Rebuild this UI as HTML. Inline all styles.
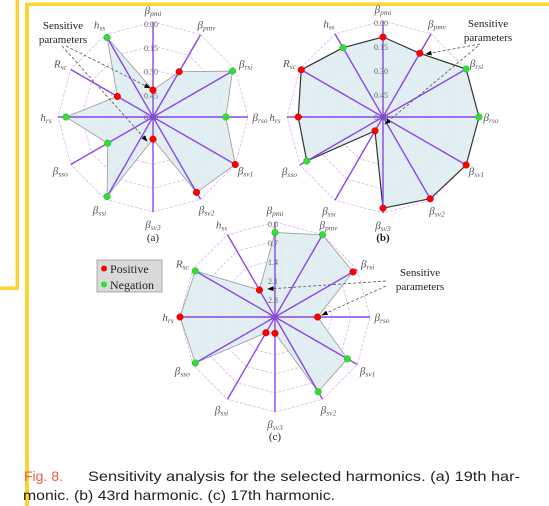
<!DOCTYPE html>
<html><head><meta charset="utf-8">
<style>
html,body{margin:0;padding:0;background:#fff;}
svg{display:block;}
.lbl{font-family:"Liberation Serif",serif;font-style:italic;fill:#555;}
</style></head>
<body>
<svg id="fig" width="549" height="506" viewBox="0 0 549 506" xmlns="http://www.w3.org/2000/svg">
  <rect x="0" y="0" width="549" height="506" fill="#fff"/>
  <g fill="#fcd535">
    <rect x="15.5" y="0" width="3.5" height="290"/>
    <rect x="0" y="286.5" width="19" height="3.5"/>
    <rect x="25" y="2.5" width="4" height="503.5"/>
    <rect x="25" y="2.5" width="524" height="3.5"/>
  </g>
  <g id="charts"></g>
  <g>
    <rect x="97" y="260" width="65" height="32" fill="#d9d9d9" stroke="#999" stroke-width="0.8"/>
    <circle cx="104" cy="268.5" r="3" fill="#f00"/>
    <text x="110" y="273" font-family="Liberation Serif,serif" font-size="12" fill="#222">Positive</text>
    <circle cx="104" cy="284.5" r="3" fill="#3d3"/>
    <text x="110" y="289" font-family="Liberation Serif,serif" font-size="12" fill="#222">Negation</text>
  </g>
  <g font-family="Liberation Sans,sans-serif" font-size="14">
    <text x="24" y="481" fill="#f05a3c">Fig. 8.</text>
    <text x="88" y="481" fill="#222" textLength="432" lengthAdjust="spacingAndGlyphs">Sensitivity analysis for the selected harmonics. (a) 19th har-</text>
    <text x="23" y="500" fill="#222" textLength="312" lengthAdjust="spacingAndGlyphs">monic. (b) 43rd harmonic. (c) 17th harmonic.</text>
  </g>
</svg>
<script>
// Axis categories (clockwise from top)
const categories = ["pmi","pmv","rsi","rso","sv1","sv2","sv3","ssi","sso","hrs","Rsc","hss"];
// Tick labels (outer -> centre)
const ticksA = ["0.00","0.15","0.30","0.45","0.60"];
const ticksB = ["0.00","0.15","0.30","0.45","0.60"];
const ticksC = ["0.0","0.7","1.4","2.1","2.8","3.5"];
// Values in axis units (outer = min tick, centre = max tick)
const valuesA = [0.43,0.27,0.02,0.14,0.00,0.05,0.46,0.02,0.27,0.05,0.34,0.02];
const valuesB = [0.10,0.14,0.00,0.00,0.00,0.01,0.03,0.50,0.05,0.07,0.01,0.10];
const valuesC = [0.39,0.00,0.18,1.93,0.42,0.32,2.90,2.83,0.11,0.00,0.11,2.35];
// Sign of each parameter: 1 positive (red), 0 negation (green)
const signA = [1,1,0,0,1,1,1,0,0,0,1,0];
const signB = [1,1,0,0,1,1,1,1,0,1,1,0];
const signC = [0,0,1,1,0,0,1,1,0,1,0,1];

const NS="http://www.w3.org/2000/svg";
const root=document.getElementById('charts');
function mk(tag,attrs,parent){const e=document.createElementNS(NS,tag);for(const k in attrs)e.setAttribute(k,attrs[k]);(parent||root).appendChild(e);return e;}
function ang(i){return (i*30-90)*Math.PI/180;}
function rScale(v,min,max,R){return R*(max-v)/(max-min);}
function pt(cx,cy,r,i){return [cx+r*Math.cos(ang(i)),cy+r*Math.sin(ang(i))];}

function drawRadar(id,cx,cy,R,ticks,values,signs,dark,caption,capY){
  const g=mk('g',{});
  
  
  const tmin=parseFloat(ticks[0]),tmax=parseFloat(ticks[ticks.length-1]);
  const n=ticks.length-1;
  for(let k=0;k<n;k++){
    const r=R*(n-k)/n;
    const pts=categories.map((c,i)=>pt(cx,cy,r,i).join(',')).join(' ');
    const ring=mk('polygon',{points:pts,fill:'none',stroke:'#dcb4f5','stroke-width':0.8,'stroke-dasharray':'3,1.5'},g);
    
    
  }
  const poly=values.map((v,i)=>pt(cx,cy,rScale(v,tmin,tmax,R),i).join(',')).join(' ');
  const shape=mk('polygon',{points:poly,fill:'#dcecf1','fill-opacity':0.85,stroke:dark?'#333':'#999','stroke-width':dark?1.2:0.8},g);
  
  
  categories.forEach((c,i)=>{
    const [x,y]=pt(cx,cy,R,i);
    const s=mk('line',{x1:cx,y1:cy,x2:x,y2:y,stroke:'#8a45f0','stroke-width':1.4},g);
    
    
  });
  mk('circle',{cx:cx,cy:cy,r:2.5,fill:'#8a45f0'},g);
  ticks.forEach((t,k)=>{
    const r=R*(n-k)/n;
    const tx=mk('text',{x:cx-2,y:cy-r+(k===n?3:5),'font-family':'Liberation Serif,serif','font-size':8,fill:'#666','text-anchor':'middle'},g);
    tx.textContent=t;
    
    
  });
  categories.forEach((c,i)=>{
    const [x,y]=pt(cx,cy,R+12,i);
    const t=mk('text',{x:x,y:y+4,'text-anchor':'middle','font-size':11,class:'lbl'},g);
    
    
    let main,sub;
    if(c==='hrs'){main='h';sub='rs';}else if(c==='hss'){main='h';sub='ss';}else if(c==='Rsc'){main='R';sub='sc';}else{main='β';sub=c;}
    const a=mk('tspan',{},t);a.textContent=main;
    const b=mk('tspan',{'font-size':7.5,dy:2},t);b.textContent=sub;
  });
  values.forEach((v,i)=>{
    const [x,y]=pt(cx,cy,rScale(v,tmin,tmax,R),i);
    const p=mk('circle',{cx:x,cy:y,r:3.3,fill:signs[i]?'#f00':'#3d3',stroke:signs[i]?'#c00':'#2b2','stroke-width':0.5},g);
    
    
  });
  const cap=mk('text',{x:cx,y:capY,'text-anchor':'middle','font-family':'Liberation Serif,serif','font-size':11,fill:'#222','font-weight':id==='b'?'bold':'normal'},g);
  cap.textContent=caption;
  
  
}
drawRadar('a',153,117,95,ticksA,valuesA,signA,false,'(a)',241);
drawRadar('b',383,117,96,ticksB,valuesB,signB,true,'(b)',241);
drawRadar('c',275,317,95,ticksC,valuesC,signC,false,'(c)',440);

mk('defs',{}).innerHTML='<marker id="ah" markerWidth="8" markerHeight="6" refX="7" refY="3" orient="auto"><path d="M0,0 L8,3 L0,6 z" fill="#000"/></marker>';
function annot(id,tx,ty,targets){
  const g=mk('g',{});
  
  
  const t1=mk('text',{x:tx,y:ty,'text-anchor':'middle','font-family':'Liberation Serif,serif','font-size':11,fill:'#222'},g);t1.textContent='Sensitive';
  const t2=mk('text',{x:tx,y:ty+14,'text-anchor':'middle','font-family':'Liberation Serif,serif','font-size':11,fill:'#222'},g);t2.textContent='parameters';
  targets.forEach(([x1,y1,x2,y2])=>{
    mk('line',{x1,y1,x2,y2,stroke:'#555','stroke-width':0.8,'stroke-dasharray':'3,2','marker-end':'url(#ah)'},g);
  });
}
annot('a',63,29,[[66,46,150,88],[62,46,147,141]]);
annot('b',488,27,[[480,44,426,54],[478,46,385,124]]);
annot('c',420,276,[[386,281,268,289],[386,286,322,315]]);
</script>
</body></html>
